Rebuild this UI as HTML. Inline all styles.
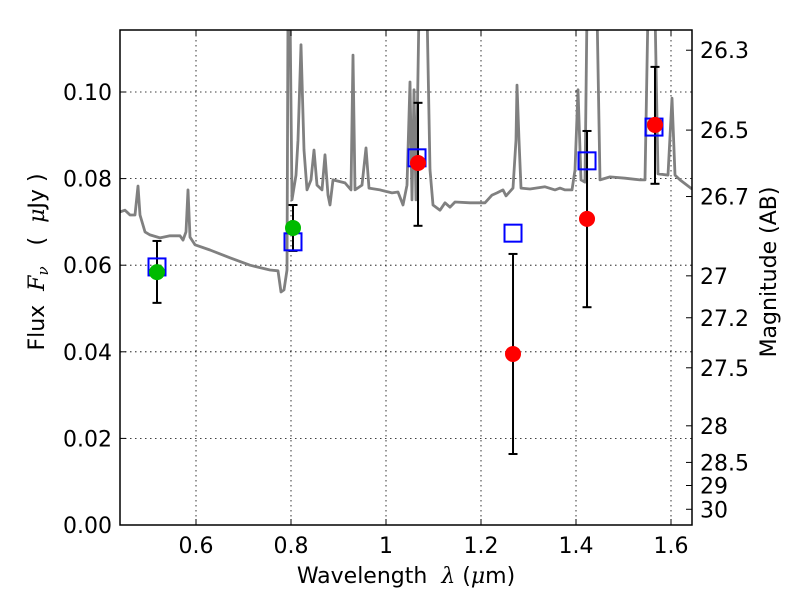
<!DOCTYPE html>
<html><head><meta charset="utf-8"><style>
html,body{margin:0;padding:0;background:#fff;}
svg{display:block;font-family:"DejaVu Sans","Liberation Sans",sans-serif;}
</style></head><body>
<svg id="chart" width="800" height="600">
<g id="grid"></g>
<g id="plot"></g>
<g id="axes"></g>
<text x="406" y="583" font-size="22" text-anchor="middle" xml:space="preserve">Wavelength  <tspan font-family="DejaVu Serif" font-style="italic">λ</tspan> (<tspan font-family="DejaVu Serif" font-style="italic">μ</tspan>m)</text>
<text transform="translate(44,262) rotate(-90)" font-size="22" text-anchor="middle" xml:space="preserve">Flux  <tspan font-family="DejaVu Serif" font-style="italic">F<tspan font-size="15" dy="4">ν</tspan></tspan><tspan dy="-4">   (  </tspan><tspan font-family="DejaVu Serif" font-style="italic">μ</tspan>Jy )</text>
<text transform="translate(776,272) rotate(-90)" font-size="22" text-anchor="middle">Magnitude (AB)</text>
</svg>
<script>
const specLam=[0.440,0.4505,0.461,0.4716,0.4779,0.4821,0.4926,0.5032,0.5242,0.5453,0.5663,0.5726,0.5789,0.5832,0.5874,0.5979,0.6295,0.6716,0.7137,0.7558,0.7726,0.7789,0.7853,0.7916,0.7937,0.7979,0.8021,0.8105,0.8147,0.8211,0.8274,0.8337,0.8421,0.8484,0.8547,0.8653,0.8716,0.8779,0.8821,0.8884,0.9137,0.9263,0.9305,0.9347,0.9495,0.9579,0.9642,0.9874,1.0126,1.0253,1.0358,1.0442,1.0505,1.0547,1.0589,1.0632,1.0695,1.0863,1.0926,1.0989,1.1137,1.1242,1.1347,1.1453,1.1768,1.2084,1.2232,1.2337,1.2463,1.2526,1.2674,1.2737,1.2758,1.2800,1.2842,1.3032,1.3347,1.3558,1.3663,1.3768,1.3916,1.3979,1.4042,1.4105,1.4189,1.4232,1.4442,1.4505,1.4716,1.5032,1.5347,1.5453,1.5516,1.5663,1.5726,1.5937,1.6021,1.6084,1.6189,1.6442];
const specFlux=[0.0723,0.0727,0.0716,0.0716,0.0783,0.0716,0.0677,0.0670,0.0663,0.0668,0.0668,0.0658,0.0677,0.0774,0.0665,0.0647,0.0635,0.0617,0.0600,0.0589,0.0587,0.0538,0.0543,0.0589,0.119,0.119,0.0751,0.0808,0.0889,0.1109,0.0866,0.0774,0.0797,0.0866,0.0785,0.0774,0.0855,0.0762,0.0739,0.0797,0.0790,0.0774,0.1085,0.0774,0.0785,0.0871,0.0778,0.0774,0.0767,0.0769,0.0739,0.0785,0.1023,0.0751,0.1005,0.0751,0.119,0.119,0.0820,0.0739,0.0727,0.0744,0.0734,0.0746,0.0744,0.0744,0.0762,0.0767,0.0774,0.0760,0.0778,0.0889,0.1016,0.0889,0.0778,0.0776,0.0781,0.0774,0.0778,0.0774,0.0774,0.0820,0.1005,0.0797,0.0792,0.119,0.119,0.0797,0.0804,0.0801,0.0797,0.0797,0.119,0.119,0.0811,0.0808,0.0986,0.0808,0.0797,0.0776];
const modelLam=[0.5179,0.8042,1.0653,1.2674,1.4232,1.5642];
const modelFlux=[0.0596,0.0654,0.0848,0.0674,0.0841,0.0919];
const obsLam=[0.5179,0.8042,1.0674,1.2674,1.4232,1.5663];
const obsFlux=[0.0584,0.0686,0.0836,0.0395,0.0707,0.0924];
const obsHi=[0.0656,0.0739,0.0975,0.0626,0.0910,0.1058];
const obsLo=[0.0513,0.0633,0.0691,0.0164,0.0503,0.0788];
const obsColor=['#00bb00','#00bb00','red','red','red','red'];
const xTicks=[0.6,0.8,1.0,1.2,1.4,1.6];
const xTickLabels=['0.6','0.8','1','1.2','1.4','1.6'];
const yTicks=[0,0.02,0.04,0.06,0.08,0.10];
const yTickLabels=['0.00','0.02','0.04','0.06','0.08','0.10'];
const magTicks=[26.3,26.5,26.7,27,27.2,27.5,28,28.5,29,30];
const magLabels=['26.3','26.5','26.7','27','27.2','27.5','28','28.5','29','30'];

const L=120,R=692,T=30,B=525;
const X0=0.44,X1=0.44+(R-L)/475, Y0=0, Y1=(B-T)/4330;
const xs=v=>L+(v-X0)/(X1-X0)*(R-L);
const ys=v=>B-(v-Y0)/(Y1-Y0)*(B-T);
const NS='http://www.w3.org/2000/svg';
function mk(tag,attrs,parent){const e=document.createElementNS(NS,tag);for(const k in attrs)e.setAttribute(k,attrs[k]);parent.appendChild(e);return e;}
const grid=document.getElementById('grid'),plot=document.getElementById('plot'),axes=document.getElementById('axes');
const svg=document.getElementById('chart');
const defs=mk('defs',{},svg);const cp=mk('clipPath',{id:'clip'},defs);mk('rect',{x:L,y:T,width:R-L,height:B-T},cp);
plot.setAttribute('clip-path','url(#clip)');

xTicks.forEach((v,i)=>{const x=xs(v);
 const g=mk('line',{x1:x,x2:x,y1:T,y2:B,stroke:'#000','stroke-width':0.8,'stroke-dasharray':'1.5,3.5'},grid);
 
 mk('line',{x1:x,x2:x,y1:B,y2:B-6,stroke:'#000'},axes);
 mk('line',{x1:x,x2:x,y1:T,y2:T+6,stroke:'#000'},axes);
 const t=mk('text',{x:x,y:B+28,'font-size':22,'text-anchor':'middle'},axes);t.textContent=xTickLabels[i];
 
});
yTicks.forEach((v,i)=>{const y=ys(v);
 const g=mk('line',{x1:L,x2:R,y1:y,y2:y,stroke:'#000','stroke-width':0.8,'stroke-dasharray':'1.5,3.5'},grid);
 
 mk('line',{x1:L,x2:L+6,y1:y,y2:y,stroke:'#000'},axes);
 const t=mk('text',{x:L-8,y:y+8,'font-size':22,'text-anchor':'end'},axes);t.textContent=yTickLabels[i];
 
});
magTicks.forEach((m,i)=>{const f=Math.pow(10,(23.9-m)/2.5);const y=ys(f);
 mk('line',{x1:R,x2:R-6,y1:y,y2:y,stroke:'#000'},axes);
 const t=mk('text',{x:R+8,y:y+8,'font-size':22},axes);t.textContent=magLabels[i];
 
});

const pts=specLam.map((l,i)=>xs(l).toFixed(1)+','+ys(specFlux[i]).toFixed(1)).join(' ');
const sp=mk('polyline',{points:pts,fill:'none',stroke:'#808080','stroke-width':2.8,'stroke-linejoin':'round'},plot);


obsLam.forEach((l,i)=>{const x=xs(l);
 const e=mk('g',{stroke:'#000','stroke-width':2},plot);
 
 mk('line',{x1:x,x2:x,y1:ys(obsHi[i]),y2:ys(obsLo[i])},e);
 mk('line',{x1:x-4.5,x2:x+4.5,y1:ys(obsHi[i]),y2:ys(obsHi[i])},e);
 mk('line',{x1:x-4.5,x2:x+4.5,y1:ys(obsLo[i]),y2:ys(obsLo[i])},e);
});
modelLam.forEach((l,i)=>{
 const r=mk('rect',{x:xs(l)-8.5,y:ys(modelFlux[i])-8.5,width:17,height:17,fill:'none',stroke:'#0000ff','stroke-width':2},plot);
 
});
obsLam.forEach((l,i)=>{
 const c=mk('circle',{cx:xs(l),cy:ys(obsFlux[i]),r:8,fill:obsColor[i]},plot);
 
});
const fr=mk('rect',{x:L,y:T,width:R-L,height:B-T,fill:'none',stroke:'#000','stroke-width':1.5},axes);

</script>
</body></html>
